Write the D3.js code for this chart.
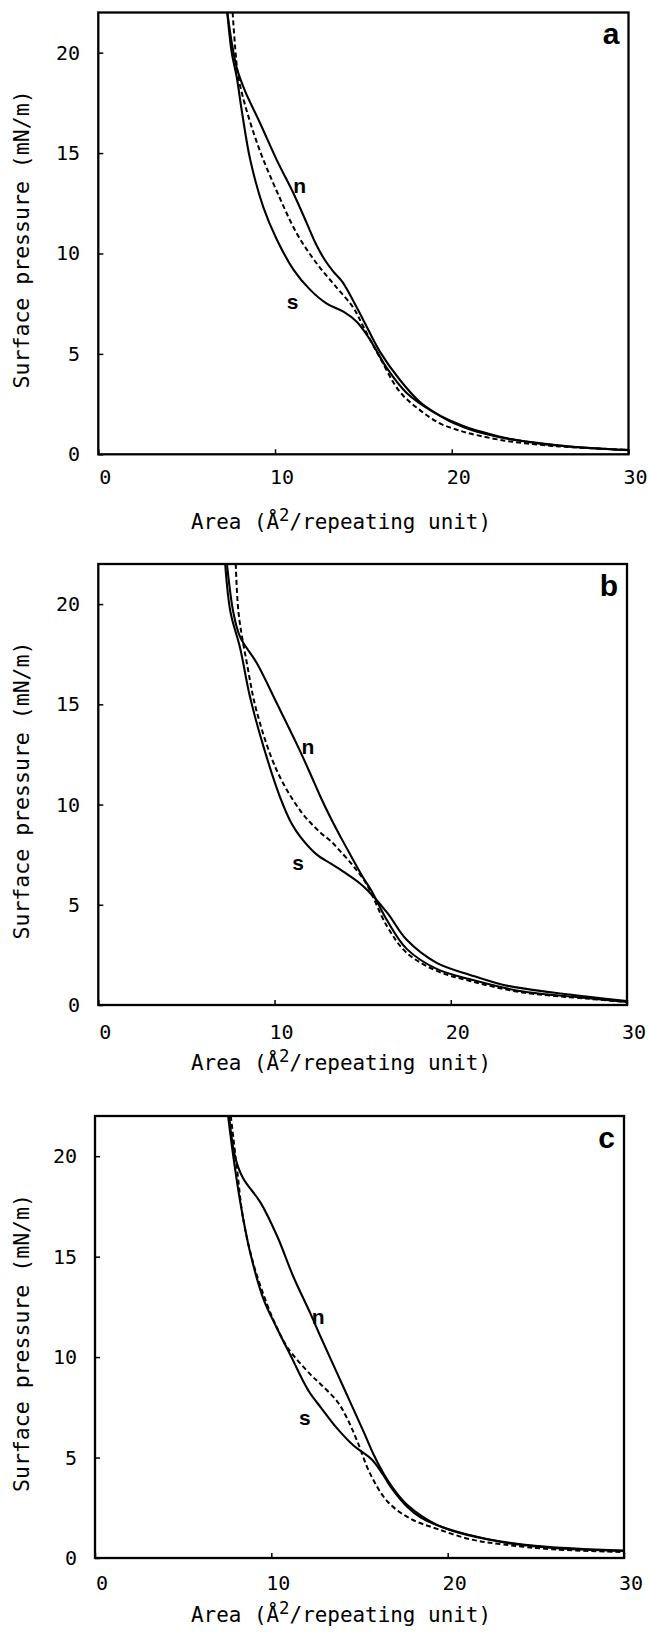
<!DOCTYPE html>
<html>
<head>
<meta charset="utf-8">
<script src="https://cdn.jsdelivr.net/npm/d3@7"></script>
<style>
body { margin: 0; background: #fff; }
</style>
</head>
<body>
<script>
//Isotherm readings, [area, pressure], one list per curve and panel
var a_n = [[7.3,22],[7.55,20.5],[7.85,19.2],[8.3,18.1],[9.15,16.5],[10.1,14.65],[11.04,13.0],[11.8,11.5],[12.3,10.5],[12.8,9.7],[13.3,9.1],[13.8,8.6],[14.24,7.95],[15.0,6.68],[15.94,5.1],[17.07,3.7],[18.2,2.6],[19.0,2.1],[20.1,1.55],[21.0,1.25],[22.0,1.0],[23.0,0.8],[24.0,0.66],[25.0,0.55],[26.0,0.45],[27.0,0.36],[28.0,0.3],[29.0,0.25],[30.0,0.22]];
var a_s = [[7.3,22],[7.55,20.0],[7.83,18.8],[8.12,17.1],[8.6,14.65],[9.34,12.3],[10.1,10.7],[11.04,9.2],[11.98,8.2],[12.93,7.5],[13.87,7.1],[14.62,6.6],[15.38,5.7],[16.32,4.3],[17.45,3.05],[18.96,2.1],[20.0,1.65],[21.0,1.3],[22.0,1.05],[23.0,0.82],[24.0,0.66],[25.0,0.53],[26.0,0.44],[27.0,0.36],[28.0,0.3],[29.0,0.25],[30.0,0.2]];
var a_dash = [[7.6,22],[7.75,20.2],[7.92,18.8],[8.4,17.1],[9.15,15.1],[10.1,13.1],[11.23,11.0],[12.36,9.5],[13.49,8.3],[14.43,7.3],[15.0,6.35],[15.94,4.8],[17.07,3.1],[18.2,2.2],[19.3,1.55],[20.2,1.25],[21.1,1.02],[23.0,0.68],[25.0,0.47],[27.0,0.34],[30.0,0.22]];

var b_n = [[7.3,22],[7.67,19.55],[8.05,18.35],[9.0,17.05],[10.13,15.05],[11.27,13.0],[12.0,11.6],[12.6,10.4],[13.2,9.3],[13.8,8.3],[14.3,7.5],[15.0,6.4],[15.5,5.7],[16.4,4.2],[17.5,2.8],[19.2,1.8],[21.1,1.28],[23.9,0.7],[27.7,0.35],[30.0,0.15]];
var b_s = [[7.2,22],[7.5,19.6],[8.05,17.8],[8.6,15.4],[9.37,12.9],[10.3,10.4],[11.0,9.0],[11.5,8.35],[12.4,7.5],[13.2,7.05],[14.0,6.6],[14.8,6.1],[15.3,5.7],[16.4,4.6],[17.5,3.25],[19.2,2.1],[21.1,1.5],[23.0,1.0],[25.8,0.62],[27.7,0.42],[30.0,0.2]];
var b_dash = [[7.8,22],[7.96,19.55],[8.43,17.05],[9.0,14.6],[10.13,11.7],[11.46,9.7],[12.6,8.6],[13.16,8.2],[13.7,7.7],[14.5,6.9],[15.24,6.0],[16.4,3.9],[17.5,2.6],[19.2,1.7],[21.1,1.2],[23.9,0.65],[27.7,0.32],[30.0,0.15]];

var c_n = [[7.6,22],[7.95,19.95],[8.4,18.9],[9.38,17.7],[10.34,16.0],[11.25,14.0],[12.2,12.2],[12.8,11.0],[13.73,9.2],[14.66,7.4],[15.3,6.15],[15.8,5.15],[16.3,4.3],[16.8,3.6],[17.7,2.65],[19.4,1.65],[21.3,1.13],[23.2,0.77],[26.0,0.5],[30.0,0.35]];
var c_s = [[7.55,22],[7.85,19.95],[8.24,17.7],[8.8,15.2],[9.55,12.9],[10.34,11.4],[11.25,9.8],[11.75,8.9],[12.2,8.2],[12.8,7.5],[13.73,6.45],[14.66,5.6],[15.2,5.25],[15.7,4.9],[16.3,4.2],[16.8,3.5],[17.7,2.55],[18.5,2.0],[20.3,1.35],[22.2,0.95],[25.1,0.6],[30.0,0.37]];
var c_dash = [[7.7,22],[8.05,19.4],[8.4,16.9],[8.98,14.65],[9.77,12.6],[10.3,11.5],[10.9,10.5],[12.2,9.15],[12.8,8.65],[13.73,7.8],[14.3,6.95],[14.9,5.75],[15.6,4.2],[16.6,2.8],[17.9,1.95],[19.4,1.45],[21.3,0.93],[23.2,0.67],[26.0,0.43],[30.0,0.3]];

//Axis ticks and texts
var xTicks = [0, 10, 20, 30];
var yTicks = [0, 5, 10, 15, 20];
var panelLetters = ["a", "b", "c"];
var curveLabels = ["n", "s"];
var xTitle = "Area (Å";
var yTitle = "Surface pressure  (mN/m)";

//Width and height
var w = 648;
var h = 1637;

var svg = d3.select("body")
            .append("svg")
            .attr("width", w)
            .attr("height", h);

//Panel frames and where the n / s labels sit (in data units)
var panels = [
    {n: a_n, s: a_s, d: a_dash, left: 98.3, right: 628.5, top: 12.5, bottom: 454.3,
     tickDy: 23, titleY: 522, yLab: 78, nAt: [11.4, 13.4], sAt: [11.0, 7.6]},
    {n: b_n, s: b_s, d: b_dash, left: 98.3, right: 627, top: 564, bottom: 1005,
     tickDy: 27, titleY: 1063, yLab: 78, nAt: [11.9, 12.9], sAt: [11.33, 7.1]},
    {n: c_n, s: c_s, d: c_dash, left: 95, right: 624, top: 1116, bottom: 1558,
     tickDy: 25, titleY: 1615, yLab: 75, nAt: [12.65, 12.0], sAt: [11.9, 7.0]}
];

var mono = "'DejaVu Sans Mono', monospace";

panels.forEach((p, i) => {

    var x = d3.scaleLinear().domain([0, 30]).range([p.left, p.right]);
    var y = d3.scaleLinear().domain([0, 22]).range([p.bottom, p.top]);

    var g = svg.append("g");

    //Clip so the steep part stops at the frame
    g.append("clipPath")
     .attr("id", "clip" + i)
     .append("rect")
     .attr("x", p.left)
     .attr("y", p.top)
     .attr("width", p.right - p.left)
     .attr("height", p.bottom - p.top);

    var line = d3.line()
                 .x((d) => { return x(d[0]); })
                 .y((d) => { return y(d[1]); })
                 .curve(d3.curveCatmullRom.alpha(0.5));

    var curves = g.append("g").attr("clip-path", "url(#clip" + i + ")");

    [p.n, p.s].forEach((data) => {
        curves.append("path")
              .attr("d", line(data))
              .attr("fill", "none")
              .attr("stroke", "#000")
              .attr("stroke-width", 2.1);
    });

    curves.append("path")
          .attr("d", line(p.d))
          .attr("fill", "none")
          .attr("stroke", "#000")
          .attr("stroke-width", 2)
          .attr("stroke-dasharray", "5,3");

    //Inward ticks
    g.append("g")
     .attr("transform", "translate(0," + p.bottom + ")")
     .call(d3.axisBottom(x).tickValues(xTicks).tickSize(-5).tickFormat(""))
     .call((s) => { s.select(".domain").remove(); })
     .selectAll("line").attr("stroke-width", 1.5);

    g.append("g")
     .attr("transform", "translate(" + p.left + ",0)")
     .call(d3.axisLeft(y).tickValues(yTicks).tickSize(-5).tickFormat(""))
     .call((s) => { s.select(".domain").remove(); })
     .selectAll("line").attr("stroke-width", 1.5);

    //Frame
    g.append("rect")
     .attr("x", p.left)
     .attr("y", p.top)
     .attr("width", p.right - p.left)
     .attr("height", p.bottom - p.top)
     .attr("fill", "none")
     .attr("stroke", "#000")
     .attr("stroke-width", 2.3);

    //Tick labels
    g.selectAll(".xl")
     .data(xTicks)
     .enter()
     .append("text")
     .attr("x", (d) => { return x(d) + 7; })
     .attr("y", p.bottom + p.tickDy)
     .attr("text-anchor", "middle")
     .attr("dominant-baseline", "central")
     .attr("font-family", mono)
     .attr("font-size", "20px")
     .text((d) => { return d; });

    g.selectAll(".yl")
     .data(yTicks)
     .enter()
     .append("text")
     .attr("x", p.yLab + 2)
     .attr("y", (d) => { return y(d); })
     .attr("text-anchor", "end")
     .attr("dominant-baseline", "central")
     .attr("font-family", mono)
     .attr("font-size", "20px")
     .text((d) => { return d; });

    //Axis titles
    var xt = g.append("text")
              .attr("x", 341)
              .attr("y", p.titleY)
              .attr("text-anchor", "middle")
              .attr("dominant-baseline", "central")
              .attr("font-family", mono)
              .attr("font-size", "20.5px")
              .attr("textLength", 300)
              .attr("lengthAdjust", "spacingAndGlyphs");
    xt.append("tspan").text(xTitle);
    xt.append("tspan").attr("dy", -7).attr("font-size", "17px").text("2");
    xt.append("tspan").attr("dy", 7).text("/repeating unit)");

    var midY = (p.top + p.bottom) / 2 + 6;
    g.append("text")
     .attr("transform", "translate(22," + midY + ") rotate(-90)")
     .attr("text-anchor", "middle")
     .attr("dominant-baseline", "central")
     .attr("font-family", mono)
     .attr("font-size", "20.5px")
     .attr("textLength", 298)
     .attr("lengthAdjust", "spacingAndGlyphs")
     .text(yTitle);

    //Panel letter
    g.append("text")
     .attr("x", p.right - 9)
     .attr("y", p.top + 21)
     .attr("text-anchor", "end")
     .attr("dominant-baseline", "central")
     .attr("font-family", "'Liberation Sans', Arial, sans-serif")
     .attr("font-weight", "bold")
     .attr("font-size", "30px")
     .text(panelLetters[i]);

    //n and s labels
    [p.nAt, p.sAt].forEach((pos, k) => {
        g.append("text")
         .attr("x", x(pos[0]))
         .attr("y", y(pos[1]))
         .attr("text-anchor", "middle")
         .attr("dominant-baseline", "central")
         .attr("font-family", "'Liberation Sans', Arial, sans-serif")
         .attr("font-weight", "bold")
         .attr("font-size", "21px")
         .text(curveLabels[k]);
    });
});
</script>
</body>
</html>
